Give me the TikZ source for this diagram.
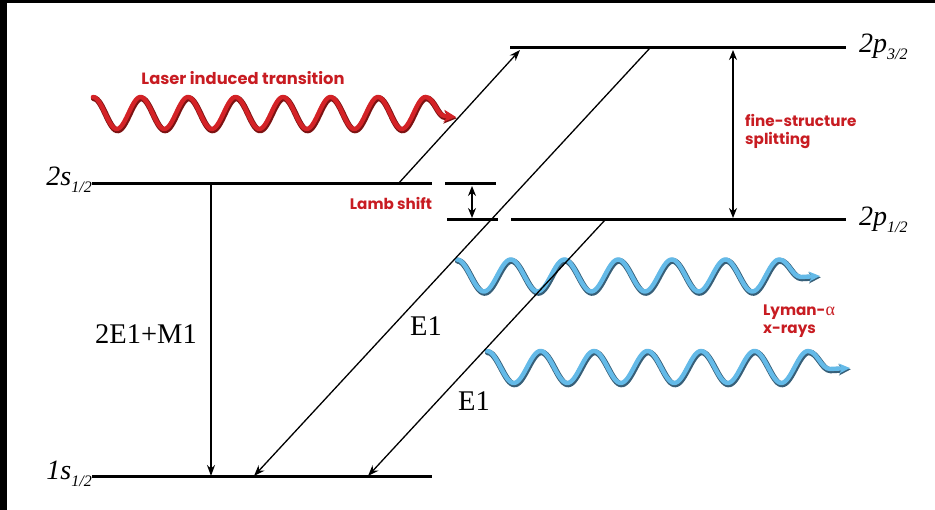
\documentclass[tikz,border=0pt]{standalone}
\usepackage{fontspec}
\setmainfont{Liberation Serif}
\newfontfamily\redfont{Poppins}
\usetikzlibrary{arrows.meta}
\definecolor{lred}{RGB}{212,34,38}
\definecolor{lredd}{RGB}{125,18,18}
\definecolor{lblue}{RGB}{100,186,232}
\definecolor{lblued}{RGB}{55,95,120}
\definecolor{tred}{RGB}{200,28,34}
\begin{document}
\begin{tikzpicture}[x=1pt,y=-1pt,
  level/.style={line width=3pt},
  trans/.style={line width=1.3pt,-{Stealth[length=11pt,width=8pt]}},
  dbl/.style={line width=1.3pt,{Stealth[length=10pt,width=8pt]}-{Stealth[length=10pt,width=8pt]}},
  lvllbl/.style={font=\fontsize{28}{28}\selectfont\itshape, inner sep=0pt},
  rlab/.style={text=tred, font=\redfont\bfseries\fontsize{15.2}{18}\selectfont, inner sep=0pt, align=left},
  elab/.style={font=\fontsize{28.5}{28.5}\selectfont, inner sep=0pt},
  wshadow/.style={line width=6pt, line cap=round},
  wmain/.style={line width=4.4pt, line cap=round},
]
\newcommand{\sbs}[1]{\raisebox{-6.5pt}{\fontsize{16}{16}\selectfont\itshape #1}}
\fill[white] (0,0) rectangle (935,510);
\fill[black] (0,0) rectangle (935,3);
\fill[black] (0,0) rectangle (7,510);
\useasboundingbox (0,0) rectangle (935,510);

% ---------- waves ----------
\begin{scope}[shift={(0.8,1.3)}]
\draw[wshadow, lredd, -{Stealth[length=13pt,width=13pt]}]
  plot[domain=93:425.5, samples=220] (\x,{113-16*cos(((\x-93)/47.5)*360)})
  .. controls (434,97) and (437,116) .. (445,116) -- (456,117);
\draw[wshadow, lblued, -{Stealth[length=12pt,width=11pt]}]
  plot[domain=457:779.2, samples=220] (\x,{275.5-16*cos(((\x-457)/53.7)*360)})
  .. controls (788,259.5) and (792,277) .. (801,277) -- (820,276);
\draw[wshadow, lblued, -{Stealth[length=12pt,width=11pt]}]
  plot[domain=487:808, samples=220] (\x,{367-16*cos(((\x-487)/53.5)*360)})
  .. controls (817,351) and (821,369) .. (830,369) -- (850,368);
\end{scope}
\draw[wmain, lred, -{Stealth[length=12pt,width=12pt]}]
  plot[domain=93:425.5, samples=220] (\x,{113-16*cos(((\x-93)/47.5)*360)})
  .. controls (434,97) and (437,116) .. (445,116) -- (456,117);
\draw[wmain, lblue, -{Stealth[length=11pt,width=10pt]}]
  plot[domain=457:779.2, samples=220] (\x,{275.5-16*cos(((\x-457)/53.7)*360)})
  .. controls (788,259.5) and (792,277) .. (801,277) -- (820,276);
\draw[wmain, lblue, -{Stealth[length=11pt,width=10pt]}]
  plot[domain=487:808, samples=220] (\x,{367-16*cos(((\x-487)/53.5)*360)})
  .. controls (817,351) and (821,369) .. (830,369) -- (850,368);

% ---------- levels ----------
\coordinate (p3L) at (510,48);  \coordinate (p3R) at (846,48);
\coordinate (p1L) at (511,220); \coordinate (p1R) at (846,220);
\coordinate (s2L) at (92,184);  \coordinate (s2R) at (432,184);
\coordinate (s1L) at (92,477);  \coordinate (s1R) at (432,477);
\coordinate (lsT1) at (445,184); \coordinate (lsT2) at (496,184);
\coordinate (lsB1) at (447,220); \coordinate (lsB2) at (498,220);
\draw[level] (p3L) -- (p3R);
\draw[level] (p1L) -- (p1R);
\draw[level] (s2L) -- (s2R);
\draw[level] (s1L) -- (s1R);
\draw[level] (lsT1) -- (lsT2);
\draw[level] (lsB1) -- (lsB2);

% ---------- level labels ----------
\node[lvllbl, anchor=base east] (l2s) at (92,186) {2s\sbs{1/2}};
\node[lvllbl, anchor=base east] (l1s) at (92,480) {1s\sbs{1/2}};
\node[lvllbl, anchor=base west] (l2p3) at (859,53) {2p\sbs{3/2}};
\node[lvllbl, anchor=base west] (l2p1) at (859,226) {2p\sbs{1/2}};

% ---------- transitions ----------
\coordinate (a2s) at (211,184); \coordinate (a1s) at (211,476);
\coordinate (lasS) at (398,184); \coordinate (lasE) at (520,50);
\coordinate (e1S) at (650,48);  \coordinate (e1E) at (254,476);
\coordinate (e2S) at (605,220); \coordinate (e2E) at (368,476);
\coordinate (lsA) at (472,186); \coordinate (lsB) at (472,218);
\coordinate (fsA) at (733,50);  \coordinate (fsB) at (733,218);
\draw[trans] (a2s) -- (a1s);
\draw[trans] (lasS) -- (lasE);
\draw[trans] (e1S) -- (e1E);
\draw[trans] (e2S) -- (e2E);
\draw[dbl] (lsA) -- (lsB);
\draw[dbl] (fsA) -- (fsB);

% ---------- labels ----------
\node[elab] (t2e1) at (146,334) {2E1+M1};
\node[elab] (te1a) at (426,326) {E1};
\node[elab] (te1b) at (474,401) {E1};
\node[rlab, font=\redfont\bfseries\fontsize{16.3}{18}\selectfont] (tlaser) at (243,78) {Laser induced transition};
\node[rlab] (tlamb) at (391,203) {Lamb shift};
\node[rlab, anchor=west] (tfs) at (745,132) {fine-structure\\splitting};
\node[rlab, anchor=west] (tly) at (763,321) {Lyman-{\rmfamily\mdseries\fontsize{18}{18}\selectfont α}\\x-rays};
\end{tikzpicture}
\end{document}
